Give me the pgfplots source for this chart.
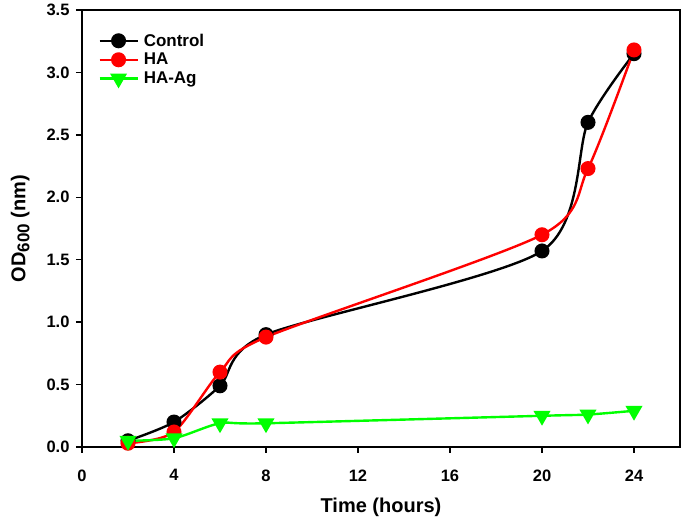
\documentclass[border=0pt]{standalone}
\usepackage{pgfplots}
\pgfplotsset{compat=1.18}
\usepackage{fontspec}
\setmainfont{Liberation Sans}
\begin{document}
\begin{tikzpicture}[x=1pt,y=1pt]
\useasboundingbox (-82pt,-74pt) rectangle (603pt,447pt);
\begin{axis}[
  at={(0pt,0pt)}, anchor=south west,
  scale only axis, width=598pt, height=437pt,
  xmin=0, xmax=26, ymin=0, ymax=3.5,
  xtick={0,4,8,12,16,20,24},
  ytick={0,0.5,...,3.5},
  yticklabel style={xshift=-3pt,/pgf/number format/.cd,fixed,fixed zerofill,precision=1},
  xticklabel style={yshift=-13pt},
  /pgf/number format/assume math mode=true,
  tick align=outside, tick pos=left,
  major tick length=6pt,
  axis line style={line width=1.8pt},
  every tick/.style={black,line width=1.5pt},
  tick label style={font=\fontsize{16.5}{18}\selectfont\bfseries},
  label style={font=\fontsize{20}{22}\selectfont\bfseries},
  xlabel={Time (hours)},
  ylabel={OD\raisebox{-4pt}{\fontsize{17}{17}\selectfont 600} (nm)},
  xlabel style={yshift=-10pt},
  ylabel style={yshift=10pt},
  legend style={draw=none, fill=none, at={(0.022,0.955)}, anchor=north west,
    font=\fontsize{17}{19}\selectfont\bfseries, row sep=1.5pt,
    nodes={inner xsep=5pt}},
  legend cell align=left,
  legend image code/.code={\draw[mark repeat=2,mark phase=2,#1]
    plot coordinates {(0pt,0pt) (19pt,0pt) (38pt,0pt)};},
]
\addplot[black, line width=2.4pt, smooth, tension=0.45, mark=*, mark size=6.3pt]
  coordinates {(2,0.05) (4,0.20) (6,0.49) (8,0.90) (20,1.57) (22,2.60) (24,3.15)};
\addlegendentry{Control}
\addplot[red, line width=2.4pt, smooth, tension=0.45, mark=*, mark size=6.3pt]
  coordinates {(2,0.03) (4,0.12) (6,0.60) (8,0.88) (20,1.70) (22,2.23) (24,3.18)};
\addlegendentry{HA}
\addplot[green, line width=2.4pt, smooth, tension=0.45, mark=triangle*, mark size=7.5pt,
  mark options={rotate=180}]
  coordinates {(2,0.05) (4,0.07) (6,0.19) (8,0.19) (20,0.25) (22,0.26) (24,0.29)};
\addlegendentry{HA-Ag}
\end{axis}
\end{tikzpicture}
\end{document}
